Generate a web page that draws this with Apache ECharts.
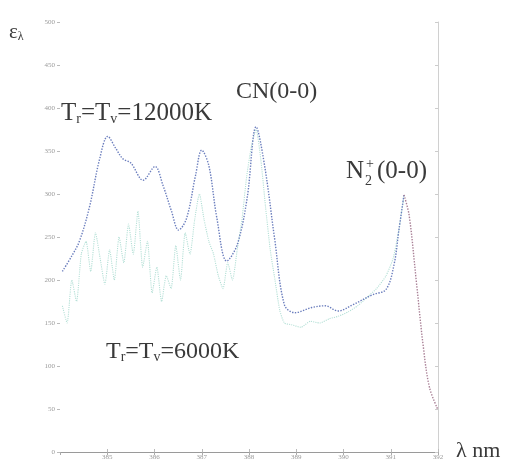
<!DOCTYPE html>
<html><head><meta charset="utf-8">
<script src="https://cdn.jsdelivr.net/npm/echarts@6/dist/echarts.min.js"></script>
<style>html,body{margin:0;padding:0;background:#fff}#c{width:512px;height:465px}</style>
</head><body><div id="c"></div>
<script>
// wavelength (nm) and emissivity for Tr=Tv=12000K
const wl12000 = [384.05, 384.25, 384.41, 384.62, 384.84, 385.01, 385.18, 385.33, 385.5, 385.76, 386.01, 386.18, 386.36, 386.51, 386.68, 386.87, 387.0, 387.15, 387.32, 387.53, 387.75, 387.96, 388.15, 388.33, 388.54, 388.75, 388.97, 389.33, 389.61, 389.89, 390.19, 390.62, 390.9, 391.07, 391.17, 391.28];
const eps12000 = [210, 228, 245, 284, 341, 367, 353, 341, 336, 316, 332, 310, 280, 258, 272, 322, 351, 333, 272, 222, 241, 295, 378, 333, 249, 171, 162, 168, 170, 164, 171, 183, 189, 218, 257, 299];
// N2+(0-0) band, falling edge (both temperatures coincide)
const wlN2 = [391.28, 391.39, 391.54, 391.69, 391.82, 392.0];
const epsN2 = [299, 275, 199, 122, 75, 49];
// wavelength (nm) and emissivity for Tr=Tv=6000K
const wl6000 = [384.05, 384.15, 384.25, 384.35, 384.45, 384.55, 384.65, 384.75, 384.85, 384.95, 385.05, 385.15, 385.25, 385.35, 385.45, 385.55, 385.65, 385.75, 385.85, 385.95, 386.05, 386.15, 386.25, 386.35, 386.45, 386.55, 386.65, 386.75, 386.85, 386.95, 387.05, 387.15, 387.25, 387.35, 387.45, 387.55, 387.65, 387.75, 387.85, 387.95, 388.05, 388.15, 388.25, 388.35, 388.45, 388.55, 388.65, 388.75, 388.9, 389.1, 389.3, 389.5, 389.7, 389.9, 390.1, 390.3, 390.5, 390.7, 390.9, 391.05, 391.17, 391.28];
const eps6000 = [170, 150, 200, 175, 230, 245, 210, 255, 225, 195, 235, 200, 250, 220, 265, 230, 280, 215, 245, 185, 215, 175, 205, 190, 240, 200, 255, 230, 270, 300, 270, 245, 230, 205, 190, 220, 200, 235, 270, 320, 355, 375, 340, 285, 235, 200, 165, 150, 148, 145, 152, 150, 155, 158, 163, 170, 180, 190, 205, 225, 258, 298];
const xMin = 384, xMax = 392, xStep = 1;
const yMin = 0, yMax = 500, yStep = 50;

const chart = echarts.init(document.getElementById('c'), null, {renderer: 'canvas'});
const serif = 'Liberation Serif';
const txt = '#3a3a3a';
const main = sz => ({fontSize: sz, fontFamily: serif, fill: txt, lineHeight: sz + 3, verticalAlign: 'bottom'});
const sub = sz => ({fontSize: sz, fontFamily: serif, fill: txt, lineHeight: 10, verticalAlign: 'bottom'});
const t = (left, top, text, size) => ({type: 'text', left, top, style: {text, font: size + 'px ' + serif, fill: txt}});

chart.setOption({
  animation: false,
  backgroundColor: '#fff',
  grid: {left: 60, right: 74, top: 22, bottom: 13},
  xAxis: [
    {type: 'value', min: xMin, max: xMax, interval: xStep,
     axisLine: {lineStyle: {color: '#c8c8c8'}},
     axisTick: {inside: true, length: 3, lineStyle: {color: '#bbb'}},
     axisLabel: {showMinLabel: false, fontSize: 7, color: '#9a9a9a', margin: 2, fontFamily: serif},
     splitLine: {show: false}},
    {type: 'value', position: 'top', min: xMin, max: xMax, interval: xStep,
     axisLine: {lineStyle: {color: '#9a9a9a'}},
     axisTick: {inside: true, length: 3, lineStyle: {color: '#aaa'}},
     axisLabel: {show: false}, splitLine: {show: false}}
  ],
  yAxis: [
    {type: 'value', min: yMin, max: yMax, interval: yStep,
     axisLine: {show: false},
     axisTick: {show: true, length: 3, lineStyle: {color: '#bbb'}},
     axisLabel: {fontSize: 7, color: '#9a9a9a', margin: 5, fontFamily: serif},
     splitLine: {show: false}},
    {type: 'value', position: 'right', min: yMin, max: yMax, interval: yStep,
     axisLine: {show: true, lineStyle: {color: '#d0d0d0'}},
     axisTick: {inside: true, length: 3, lineStyle: {color: '#ccc'}},
     axisLabel: {show: false}, splitLine: {show: false}}
  ],
  series: [
    {type: 'line', name: '6000K', data: wl6000.map((w, i) => [w, eps6000[i]]),
     showSymbol: false, smooth: 0.2,
     lineStyle: {color: '#b2dfd5', width: 1.1, type: 'dotted'}},
    {type: 'line', name: '12000K', data: wl12000.map((w, i) => [w, eps12000[i]]),
     showSymbol: false, smooth: 0.35,
     lineStyle: {color: '#6a7dbd', width: 1.4, type: 'dotted'}},
    {type: 'line', name: 'N2+', data: wlN2.map((w, i) => [w, epsN2[i]]),
     showSymbol: false, smooth: 0.35,
     lineStyle: {color: '#a87f95', width: 1.4, type: 'dotted'}}
  ],
  graphic: [
    {type: 'text', left: 9, top: 22, style: {text: '{a|ε}{s|λ}', rich: {a: main(21), s: sub(12)}}},
    t(456, 440, 'λ nm', 22),
    {type: 'text', left: 61, top: 101, style: {text: '{a|T}{s|r}{a|=T}{s|v}{a|=12000K}', rich: {a: main(25), s: sub(14)}}},
    t(236, 80, 'CN(0-0)', 24),
    t(346, 159, 'N', 25),
    t(365, 174, '2', 14),
    t(366, 157, '+', 14),
    t(377, 159, '(0-0)', 25),
    {type: 'text', left: 106, top: 340, style: {text: '{a|T}{s|r}{a|=T}{s|v}{a|=6000K}', rich: {a: main(24), s: sub(14)}}}
  ]
});
</script></body></html>
